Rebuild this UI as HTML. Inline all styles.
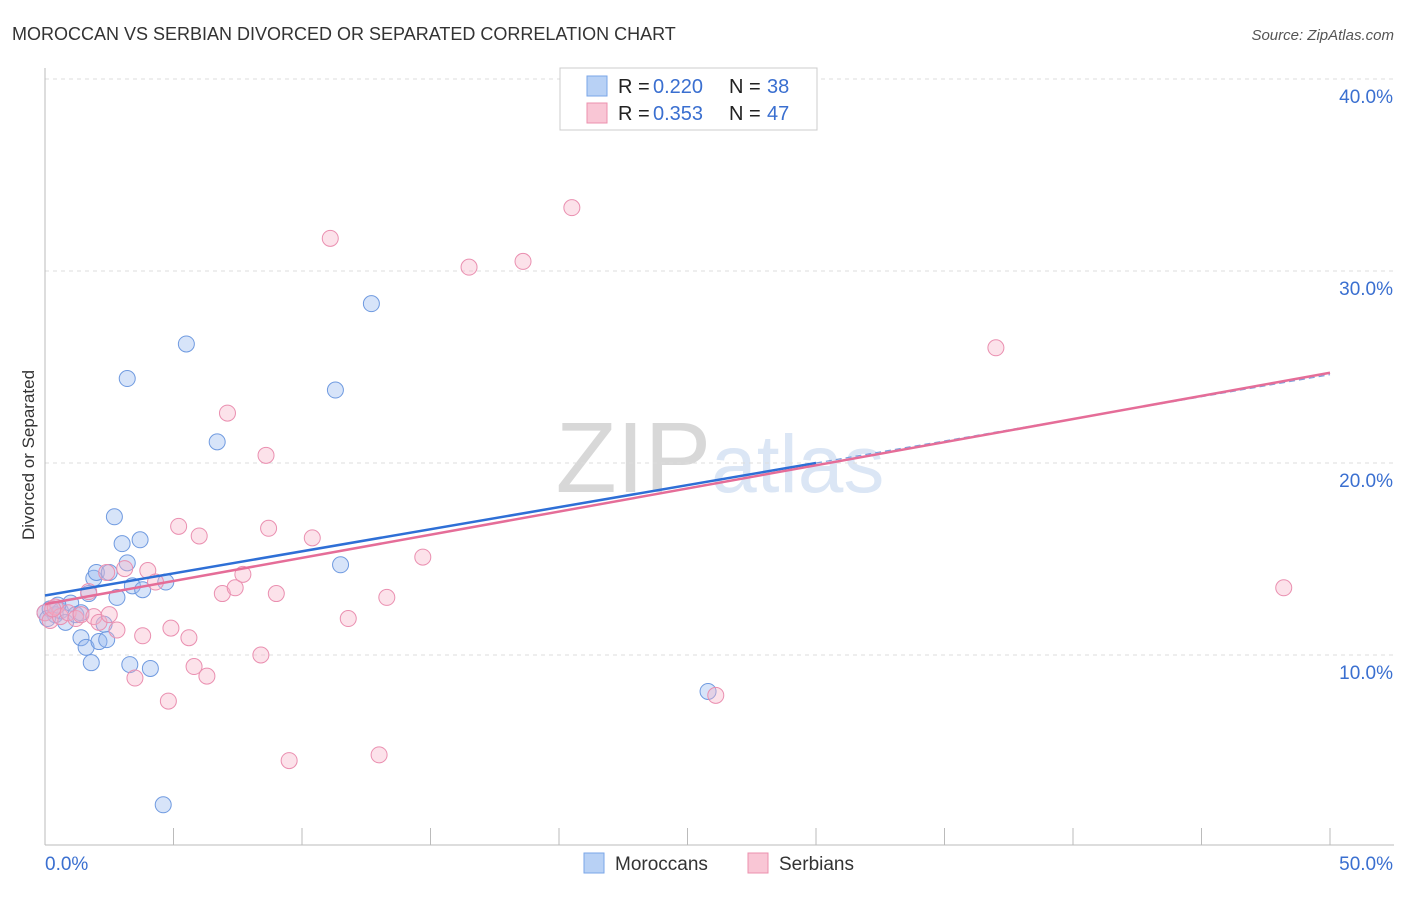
<!DOCTYPE html>
<html><head><meta charset="utf-8"><style>
body{margin:0;background:#fff;font-family:"Liberation Sans",sans-serif;}
svg text{font-family:"Liberation Sans",sans-serif;}
</style></head><body>
<svg id="c" width="1406" height="892" xmlns="http://www.w3.org/2000/svg">
<text x="12" y="40" font-size="18" fill="#333">MOROCCAN VS SERBIAN DIVORCED OR SEPARATED CORRELATION CHART</text>
<text x="1394" y="40" font-size="15" fill="#555" font-style="italic" text-anchor="end">Source: ZipAtlas.com</text>
<text x="720" y="492" font-size="100" fill="#ddd" text-anchor="middle" font-family="Liberation Serif"><tspan fill="#d8d8d8">ZIP</tspan><tspan fill="#dbe6f5" font-family="Liberation Sans" font-size="82">atlas</tspan></text>
<g id="grid"></g>
<g id="axes"></g>
<g id="pts"></g>
<g id="trend"></g>
<text transform="translate(34,455) rotate(-90)" font-size="17" fill="#333" text-anchor="middle">Divorced or Separated</text>
<g>
<rect x="560" y="68" width="257" height="62" fill="#fff" stroke="#ccc"/>
<rect x="587" y="76" width="20" height="20" fill="#b8d1f5" stroke="#7aa6e8"/>
<rect x="587" y="103" width="20" height="20" fill="#f9c6d5" stroke="#ec90ae"/>
<text x="618" y="93" font-size="20" fill="#222">R =</text>
<text x="653" y="93" font-size="20" fill="#3a6fd0">0.220</text>
<text x="729" y="93" font-size="20" fill="#222">N =</text>
<text x="767" y="93" font-size="20" fill="#3a6fd0">38</text>
<text x="618" y="120" font-size="20" fill="#222">R =</text>
<text x="653" y="120" font-size="20" fill="#3a6fd0">0.353</text>
<text x="729" y="120" font-size="20" fill="#222">N =</text>
<text x="767" y="120" font-size="20" fill="#3a6fd0">47</text>
</g>
<g>
<rect x="584" y="853" width="20" height="20" fill="#b8d1f5" stroke="#7aa6e8"/>
<text x="615" y="870" font-size="19" fill="#333">Moroccans</text>
<rect x="748" y="853" width="20" height="20" fill="#f9c6d5" stroke="#ec90ae"/>
<text x="779" y="870" font-size="19" fill="#333">Serbians</text>
</g>
</svg>
<script>
const yTicks=[10,20,30,40];
const yTickLabels=["10.0%","20.0%","30.0%","40.0%"];
const xTickLabels=["0.0%","50.0%"];
const blueX=[0.0,0.2,0.4,0.6,0.8,1.0,1.2,1.4,1.4,1.6,1.7,1.8,1.9,2.0,2.1,2.3,2.4,2.5,2.7,2.8,3.0,3.2,3.2,3.3,3.4,3.7,3.8,4.1,4.6,4.7,5.5,6.7,11.3,11.5,12.7,25.8,0.1,0.5];
const blueY=[12.2,12.4,12.1,12.3,11.7,12.7,12.1,12.2,10.9,10.4,13.2,9.6,14.0,14.3,10.7,11.6,10.8,14.3,17.2,13.0,15.8,14.8,24.4,9.5,13.6,16.0,13.4,9.3,2.2,13.8,26.2,21.1,23.8,14.7,28.3,8.1,11.9,12.6];
const pinkX=[0.0,0.2,0.4,0.6,0.9,1.2,1.4,1.7,1.9,2.1,2.4,2.5,2.8,3.1,3.5,3.8,4.0,4.3,4.8,4.9,5.2,5.6,5.8,6.0,6.3,6.9,7.1,7.4,7.7,8.4,8.6,8.7,9.0,9.5,10.4,11.1,11.8,13.0,13.3,14.7,16.5,18.6,20.5,26.1,37.0,48.2,0.3];
const pinkY=[12.2,11.8,12.5,12.0,12.2,11.9,12.1,13.3,12.0,11.7,14.3,12.1,11.3,14.5,8.8,11.0,14.4,13.8,7.6,11.4,16.7,10.9,9.4,16.2,8.9,13.2,22.6,13.5,14.2,10.0,20.4,16.6,13.2,4.5,16.1,31.7,11.9,4.8,13.0,15.1,30.2,30.5,33.3,7.9,26.0,13.5,12.4];
const blueTrend=[13.1,24.6];
const pinkTrend=[12.65,24.7];
const NS='http://www.w3.org/2000/svg';
const X=v=>45+v*25.7, Y=v=>847-v*19.2;
function mk(t,a,p){const e=document.createElementNS(NS,t);for(const k in a)e.setAttribute(k,a[k]);document.getElementById(p).appendChild(e);return e;}
yTicks.forEach((t,i)=>{
 const g=mk('line',{x1:45,x2:1394,y1:Y(t),y2:Y(t),stroke:'#ddd','stroke-dasharray':'4,4'},'grid');
 
 
 const l=mk('text',{x:1393,y:Y(t)+24,'font-size':19,fill:'#3a6fd0','text-anchor':'end'},'axes');
 l.textContent=yTickLabels[i];
 
 
});
const ax=mk('line',{x1:45,x2:1394,y1:845,y2:845,stroke:'#bbb'},'axes');


const ay=mk('line',{x1:45,x2:45,y1:68,y2:845,stroke:'#bbb'},'axes');


for(let i=0;i<=10;i++){const t=mk('line',{x1:X(i*5),x2:X(i*5),y1:828,y2:845,stroke:'#bbb'},'axes');
 
 }
[[0,'start',45],[1,'end',1393]].forEach(([i,a,x])=>{const l=mk('text',{x:x,y:870,'font-size':19,fill:'#3a6fd0','text-anchor':a},'axes');l.textContent=xTickLabels[i];
 
 });
blueX.forEach((v,i)=>{const c=mk('circle',{cx:X(v),cy:Y(blueY[i]),r:8,fill:'rgba(150,185,240,0.38)',stroke:'#6f9ae0','stroke-width':1},'pts');
 
 });
pinkX.forEach((v,i)=>{const c=mk('circle',{cx:X(v),cy:Y(pinkY[i]),r:8,fill:'rgba(248,180,200,0.38)',stroke:'#ea8fb0','stroke-width':1},'pts');
 
 });
const bAt=x=>blueTrend[0]+(blueTrend[1]-blueTrend[0])*x/50;
const b1=mk('line',{x1:X(0),y1:Y(bAt(0)),x2:X(30),y2:Y(bAt(30)),stroke:'#2e6fd6','stroke-width':2.5},'trend');


const b2=mk('line',{x1:X(30),y1:Y(bAt(30)),x2:X(50),y2:Y(bAt(50)),stroke:'#7aa0dd','stroke-width':1.2,'stroke-dasharray':'6,4'},'trend');


const p1=mk('line',{x1:X(0),y1:Y(pinkTrend[0]),x2:X(50),y2:Y(pinkTrend[1]),stroke:'#e56d98','stroke-width':2.5},'trend');


</script>
</body></html>
